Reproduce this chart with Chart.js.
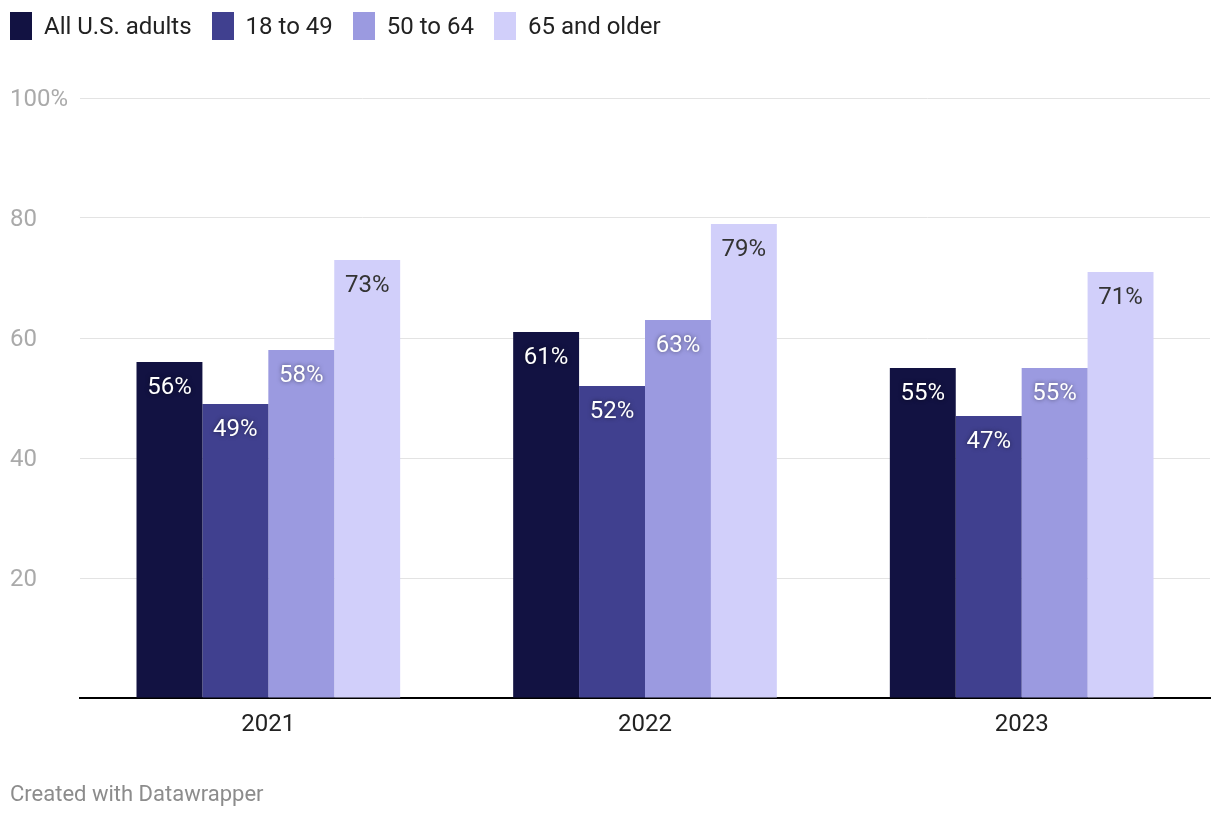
<!DOCTYPE html>
<html><head><meta charset="utf-8">
<script src="https://cdn.jsdelivr.net/npm/chart.js@4"></script>
<style>
html,body{margin:0;padding:0;background:#fff;width:1220px;height:820px;overflow:hidden;font-family:Roboto,"Noto Sans",sans-serif;}
#wrap{position:absolute;left:0;top:0;width:1220px;height:820px;}
#legend{position:absolute;left:10px;top:12px;display:flex;align-items:center;font-size:24px;color:#222;}
.it{display:flex;align-items:center;margin-right:20px;}
.sw{width:22px;height:28px;margin-right:12px;}
#foot{position:absolute;left:10px;top:781px;font-size:22px;color:#8c8c8c;}
</style></head><body>
<div id="wrap"><canvas id="c" width="1220" height="820"></canvas></div>
<div id="legend"></div>
<div id="foot">Created with Datawrapper</div>
<script>
const categories = ['2021','2022','2023'];
const seriesNames = ['All U.S. adults','18 to 49','50 to 64','65 and older'];
const allAdults = [56,61,55];
const age18to49 = [49,52,47];
const age50to64 = [58,63,55];
const age65plus = [73,79,71];
const yTicks = [0,20,40,60,80,100];
const colors = ['#121242','#40408f','#9b9ae0','#d1cffa'];
const labelColors = ['#fff','#fff','#fff','#333'];
const seriesValues = [allAdults, age18to49, age50to64, age65plus];

const lg = document.getElementById('legend');
seriesNames.forEach((n,i)=>{
  const d=document.createElement('div');d.className='it';
  d.innerHTML='<div class="sw" style="background:'+colors[i]+'"></div><span>'+n+'</span>';
  lg.appendChild(d);
});

const labelPlugin = {
  id:'barLabels',
  afterDatasetsDraw(chart){
    const ctx=chart.ctx;
    chart.data.datasets.forEach((ds,di)=>{
      const meta=chart.getDatasetMeta(di);
      meta.data.forEach((el,i)=>{
        ctx.save();
        ctx.font='24px Roboto, "Noto Sans", sans-serif';
        ctx.textAlign='center';ctx.textBaseline='middle';
        if(labelColors[di]==='#fff'){ctx.shadowColor='rgba(0,0,0,0.5)';ctx.shadowBlur=4;}
        ctx.fillStyle=labelColors[di];
        ctx.fillText(ds.data[i]+'%', el.x, el.y+26);
        ctx.restore();
      });
    });
  }
};

new Chart(document.getElementById('c'),{
  type:'bar',
  data:{labels:categories,datasets:seriesNames.map((n,i)=>({label:n,data:seriesValues[i],backgroundColor:colors[i],borderWidth:0,categoryPercentage:0.7,barPercentage:1.0}))},
  options:{
    responsive:false,animation:false,
    layout:{padding:{left:10,right:10,top:98,bottom:0}},
    plugins:{legend:{display:false},tooltip:{enabled:false}},
    scales:{
      x:{
        grid:{display:false,drawTicks:false},
        border:{display:true,color:'#000',width:2},
        ticks:{color:'#222',font:{size:24,family:'Roboto'},padding:13},
        afterFit(s){s.height=122;}
      },
      y:{
        min:0,max:100,
        afterBuildTicks(s){s.ticks=yTicks.map(v=>({value:v}));},
        grid:{color:'#e3e3e3',lineWidth:1,drawTicks:false},
        border:{display:false},
        ticks:{color:'#aaa',font:{size:24,family:'Roboto'},crossAlign:'far',padding:12,labelOffset:2,
          callback:v=>v===100?'100%':(v===0?'':String(v))},
        afterFit(s){s.width=70;}
      }
    }
  },
  plugins:[labelPlugin]
});
</script>
</body></html>
